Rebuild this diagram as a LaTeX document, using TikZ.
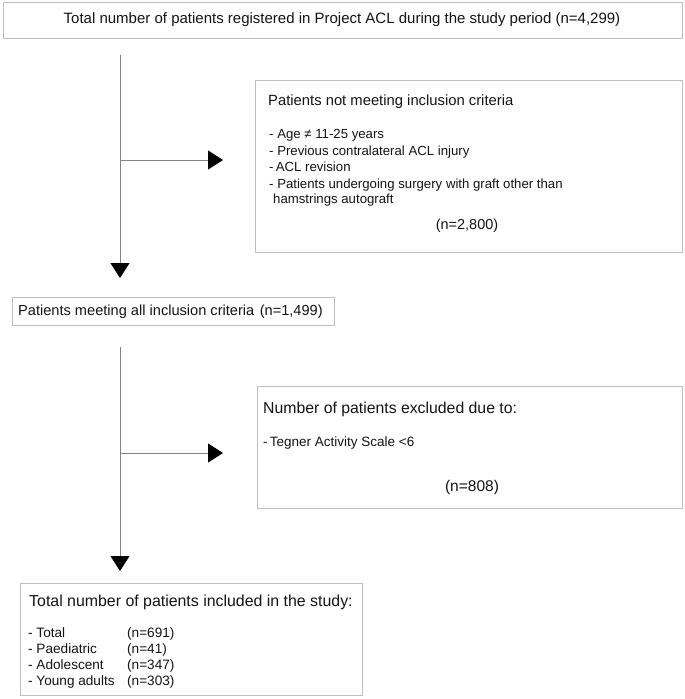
\documentclass[tikz,border=0pt]{standalone}
\usepackage{fontspec}
\setmainfont{Liberation Sans}
\usetikzlibrary{arrows.meta}
\definecolor{boxgray}{RGB}{190,190,190}
\definecolor{linegray}{RGB}{130,130,130}
\definecolor{txt}{RGB}{20,20,20}
\tikzset{
  box/.style={draw=boxgray, line width=1pt, fill=white},
  conn/.style={draw=linegray, line width=0.9pt, -{Triangle[length=15pt,width=19pt,fill=black,color=black]}},
  ttl/.style={inner sep=0pt, text=txt, font=\fontsize{15}{18}\selectfont},
  bigttl/.style={inner sep=0pt, text=txt, font=\fontsize{15.8}{18}\selectfont},
  itm/.style={inner sep=0pt, text=txt, font=\fontsize{13.2}{16}\selectfont, anchor=mid west},
  itmb/.style={inner sep=0pt, text=txt, font=\fontsize{13.6}{16}\selectfont, anchor=mid west},
}
\begin{document}
\begin{tikzpicture}[x=1pt,y=-1pt]
\useasboundingbox (0,0) rectangle (685,699);
\fill[white] (0,0) rectangle (685,699);

% boxes
\node[box, minimum width=679pt, minimum height=36pt, anchor=north west] (b1) at (3,2) {};
\node[box, minimum width=427pt, minimum height=172pt, anchor=north west] (b2) at (255,80) {};
\node[box, minimum width=322pt, minimum height=28pt, anchor=north west] (b3) at (12,297) {};
\node[box, minimum width=425pt, minimum height=122pt, anchor=north west] (b4) at (257,386) {};
\node[box, minimum width=342pt, minimum height=112pt, anchor=north west] (b5) at (20,583) {};

% texts
\node[ttl, anchor=mid] (t1) at (342,20.5) {Total number of patients registered in Project ACL during the study period (n=4,299)};

\node[ttl, font=\fontsize{14.8}{18}\selectfont, anchor=mid west] (t2) at (268,103) {Patients not meeting inclusion criteria};
\node[itm] (t2a) at (269,135.5) {- Age ≠ 11-25 years};
\node[itm] (t2b) at (269,152.5) {- Previous contralateral ACL injury};
\node[itm] (t2c) at (269,169) {-\,ACL revision};
\node[itm] (t2d) at (269,185.5) {- Patients undergoing surgery with graft other than};
\node[itm] (t2e) at (273,200.5) {hamstrings autograft};
\node[itm, font=\fontsize{14.5}{16}\selectfont, anchor=mid] (t2n) at (467,227) {(n=2,800)};

\node[ttl, font=\fontsize{14.6}{18}\selectfont, anchor=mid west] (t3) at (18,313) {Patients meeting all inclusion criteria\hspace{0.1em} (n=1,499)};

\node[bigttl, anchor=mid west] (t4) at (263,411) {Number of patients excluded due to:};
\node[itm, font=\fontsize{13.5}{16}\selectfont] (t4a) at (263,444) {-\,Tegner Activity Scale <6};
\node[itm, font=\fontsize{15.5}{16}\selectfont, anchor=mid] (t4n) at (472,489) {(n=808)};

\node[ttl, font=\fontsize{15.9}{18}\selectfont, anchor=mid west] (t5) at (29,604) {Total number of patients included in the study:};
\node[itmb] (t5a) at (28,635) {- Total};
\node[itmb] (t5b) at (28,651) {- Paediatric};
\node[itmb] (t5c) at (28,667) {- Adolescent};
\node[itmb] (t5d) at (28,682.5) {- Young adults};
\node[itmb] (t5an) at (127,635) {(n=691)};
\node[itmb] (t5bn) at (127,651) {(n=41)};
\node[itmb] (t5cn) at (127,667) {(n=347)};
\node[itmb] (t5dn) at (127,682.5) {(n=303)};

% connectors
\coordinate (v1s) at (120,55);
\coordinate (v1e) at (120,278);
\coordinate (h1s) at (120,160);
\coordinate (h1e) at (223,160);
\coordinate (v2s) at (120,347);
\coordinate (v2e) at (120,571);
\coordinate (h2s) at (120,453);
\coordinate (h2e) at (223,453);
\draw[conn] (v1s) -- (v1e);
\draw[conn] (h1s) -- (h1e);
\draw[conn] (v2s) -- (v2e);
\draw[conn] (h2s) -- (h2e);
\end{tikzpicture}
\end{document}
